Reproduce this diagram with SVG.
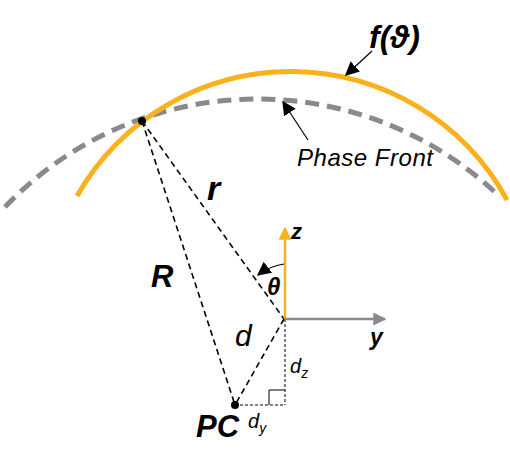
<svg xmlns="http://www.w3.org/2000/svg" width="510" height="474" viewBox="0 0 510 474">
<style>
.lbl{font-family:"Liberation Sans","DejaVu Sans",sans-serif;fill:#000}
.bi{font-weight:bold;font-style:italic}
.it{font-style:italic}
.dash{fill:none;stroke:#000;stroke-width:1.6;stroke-dasharray:6 4}
.thin{fill:none;stroke:#000;stroke-width:1;stroke-dasharray:3 2}
</style>
<defs>
<marker id="ahb" viewBox="0 0 10 10" refX="9" refY="5" markerWidth="14" markerHeight="14" markerUnits="userSpaceOnUse" orient="auto"><path d="M0,0 L10,5 L0,10 z" fill="#000"/></marker>
<marker id="aho" viewBox="0 0 10 10" refX="9" refY="5" markerWidth="13" markerHeight="13" markerUnits="userSpaceOnUse" orient="auto"><path d="M0,0 L10,5 L0,10 z" fill="#FBB11B"/></marker>
<marker id="ahg" viewBox="0 0 10 10" refX="9" refY="5" markerWidth="13" markerHeight="13" markerUnits="userSpaceOnUse" orient="auto"><path d="M0,0 L10,5 L0,10 z" fill="#8A8A8E"/></marker>
</defs>
<g id="phase-front">
<path d="M5,207 A349,349 0 0,1 500,197" fill="none" stroke="#8A8A8E" stroke-width="5" stroke-dasharray="14 8"/>
</g>
<g id="pattern">
<path d="M77,196 A246,246 0 0,1 507,200" fill="none" stroke="#FBB11B" stroke-width="5"/>
</g>
<g id="connectors">
<line class="dash" x1="142" y1="121" x2="235" y2="405"/>
<line class="dash" x1="142" y1="121" x2="284" y2="319"/>
<line class="dash" x1="284" y1="319" x2="235" y2="405"/>
<line class="thin" x1="285" y1="319" x2="285" y2="405"/>
<line class="thin" x1="235" y1="405" x2="285" y2="405"/>
<polyline points="269,405 269,390 285,390" fill="none" stroke="#000" stroke-width="1"/>
<line x1="285" y1="319" x2="285" y2="228" stroke="#FBB11B" stroke-width="2.5" marker-end="url(#aho)"/>
<line x1="285" y1="319" x2="385" y2="319" stroke="#8A8A8E" stroke-width="2.5" marker-end="url(#ahg)"/>
<path d="M284,264 A55,55 0 0,0 258,275" fill="none" stroke="#000" stroke-width="1.2" marker-end="url(#ahb)"/>
<line x1="372" y1="51" x2="346" y2="75" stroke="#000" stroke-width="1.2" marker-end="url(#ahb)"/>
<line x1="308" y1="140" x2="283" y2="102" stroke="#000" stroke-width="1.2" marker-end="url(#ahb)"/>
</g>
<g id="point">
<circle cx="142" cy="121" r="4" fill="#000"/>
</g>
<g id="pc">
<circle cx="235" cy="405" r="4" fill="#000"/>
<text class="lbl bi" x="196" y="437" font-size="31">PC</text>
</g>
<g id="labels">
<text class="lbl bi" x="369" y="48" font-size="32">f(ϑ)</text>
<text class="lbl it" x="297" y="166" font-size="24" textLength="136">Phase Front</text>
<text class="lbl bi" x="207" y="200" font-size="34">r</text>
<text class="lbl bi" x="151" y="287" font-size="31">R</text>
<text class="lbl it" x="235" y="346" font-size="30">d</text>
<text class="lbl bi" x="267" y="295" font-size="24">θ</text>
<text class="lbl bi" x="291" y="239" font-size="22">z</text>
<text class="lbl bi" x="370" y="345" font-size="23">y</text>
<text class="lbl it" x="290" y="373" font-size="20">d<tspan font-size="14" dy="5">z</tspan></text>
<text class="lbl it" x="248" y="428" font-size="20">d<tspan font-size="14" dy="5">y</tspan></text>
</g>
</svg>
